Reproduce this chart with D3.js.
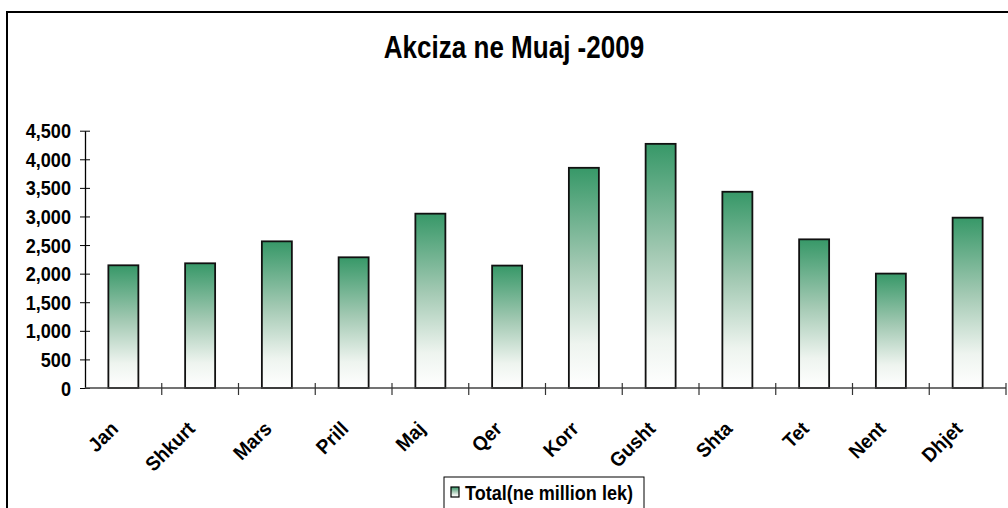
<!DOCTYPE html>
<html>
<head>
<meta charset="utf-8">
<script src="https://cdn.jsdelivr.net/npm/d3@7.9.0/dist/d3.min.js"></script>
<style>
  html, body { margin: 0; padding: 0; background: #fff; }
  svg { display: block; }
  text { font-family: "Liberation Sans", Arial, sans-serif; font-weight: bold; fill: #000; }
</style>
</head>
<body>
<svg id="chart" width="1008" height="508"></svg>
<script>
// ----- data -----
const months = ["Jan", "Shkurt", "Mars", "Prill", "Maj", "Qer", "Korr", "Gusht", "Shta", "Tet", "Nent", "Dhjet"];
const totals = [2146, 2181, 2565, 2286, 3049, 2141, 3851, 4270, 3432, 2600, 2001, 2979];
const yTicks = [0, 500, 1000, 1500, 2000, 2500, 3000, 3500, 4000, 4500];
const seriesName = "Total(ne million lek)";
const title = "Akciza ne Muaj -2009";

const svg = d3.select("#chart");

// outer frame (right / bottom run off the picture)
svg.append("path")
  .attr("d", "M7,520 L7,12 L1020,12")
  .attr("fill", "none")
  .attr("stroke", "#000")
  .attr("stroke-width", 2);

// gradient for bars: dark green top -> white bottom
const defs = svg.append("defs");
const grad = defs.append("linearGradient")
  .attr("id", "barGrad")
  .attr("x1", 0).attr("y1", 0).attr("x2", 0).attr("y2", 1);
grad.append("stop").attr("offset", "0%").attr("stop-color", "#379868");
grad.append("stop").attr("offset", "45%").attr("stop-color", "#a3c9b3");
grad.append("stop").attr("offset", "80%").attr("stop-color", "#eef4ef");
grad.append("stop").attr("offset", "100%").attr("stop-color", "#ffffff");

// ----- scales -----
const x = d3.scaleBand().domain(months).range([85, 1006]).padding(0);
const y = d3.scaleLinear().domain([0, 4500]).range([388, 130.7]);
const barW = 30;

// title (the original type is slightly condensed)
svg.append("text")
  .attr("transform", `translate(514,58) scale(0.84,1)`)
  .attr("text-anchor", "middle")
  .style("font-size", "31px")
  .text(title);

// y axis
const yAxis = d3.axisLeft(y)
  .tickValues(yTicks)
  .tickFormat(d3.format(","))
  .tickSizeInner(5).tickSizeOuter(0).tickPadding(9);
const gy = svg.append("g").attr("transform", "translate(85,0)").call(yAxis);
gy.select(".domain").attr("stroke", "#000").attr("stroke-width", 1.3);
gy.selectAll(".tick line").attr("x2", 5).attr("x1", -5).attr("stroke", "#000");
gy.selectAll(".tick text")
  .attr("x", null).attr("dy", null)
  .attr("transform", "translate(-14,7) scale(0.93,1)")
  .style("font-size", "19.5px")
  .style("font-family", "'Liberation Sans', Arial, sans-serif");

// bars
svg.append("g").selectAll("rect")
  .data(months.map((m, i) => ({ m, v: totals[i] })))
  .enter()
  .append("rect")
  .attr("x", d => x(d.m) + x.bandwidth() / 2 - barW / 2)
  .attr("y", d => y(d.v))
  .attr("width", barW)
  .attr("height", d => y(0) - y(d.v))
  .attr("fill", "url(#barGrad)")
  .attr("stroke", "#111")
  .attr("stroke-width", 1.8);

// x axis line and tick marks between categories
const gx = svg.append("g");
gx.append("line")
  .attr("x1", 85).attr("x2", 1006)
  .attr("y1", y(0)).attr("y2", y(0))
  .attr("stroke", "#444").attr("stroke-width", 1.3);
const boundaries = months.map(m => x(m) + x.bandwidth());
gx.selectAll("line.tk")
  .data(boundaries)
  .enter()
  .append("line")
  .attr("class", "tk")
  .attr("x1", d => d).attr("x2", d => d)
  .attr("y1", y(0) - 5).attr("y2", y(0) + 7)
  .attr("stroke", "#333").attr("stroke-width", 1.2);

// rotated month labels
gx.selectAll("text")
  .data(months)
  .enter()
  .append("text")
  .attr("transform", d => `translate(${x(d) + x.bandwidth() / 2 - 4},${y(0) + 42}) rotate(-45) scale(0.95,1)`)
  .attr("text-anchor", "end")
  .style("font-size", "20px")
  .text(d => d);

// legend
const lg = svg.append("g");
lg.append("rect")
  .attr("x", 444).attr("y", 477)
  .attr("width", 200).attr("height", 40)
  .attr("fill", "#fff")
  .attr("stroke", "#000").attr("stroke-width", 1);
lg.append("rect")
  .attr("x", 451).attr("y", 487)
  .attr("width", 8).attr("height", 10)
  .attr("fill", "url(#barGrad)")
  .attr("stroke", "#000").attr("stroke-width", 1.2);
lg.append("text")
  .attr("transform", `translate(465,500) scale(0.88,1)`)
  .style("font-size", "20.5px")
  .text(seriesName);
</script>
</body>
</html>
